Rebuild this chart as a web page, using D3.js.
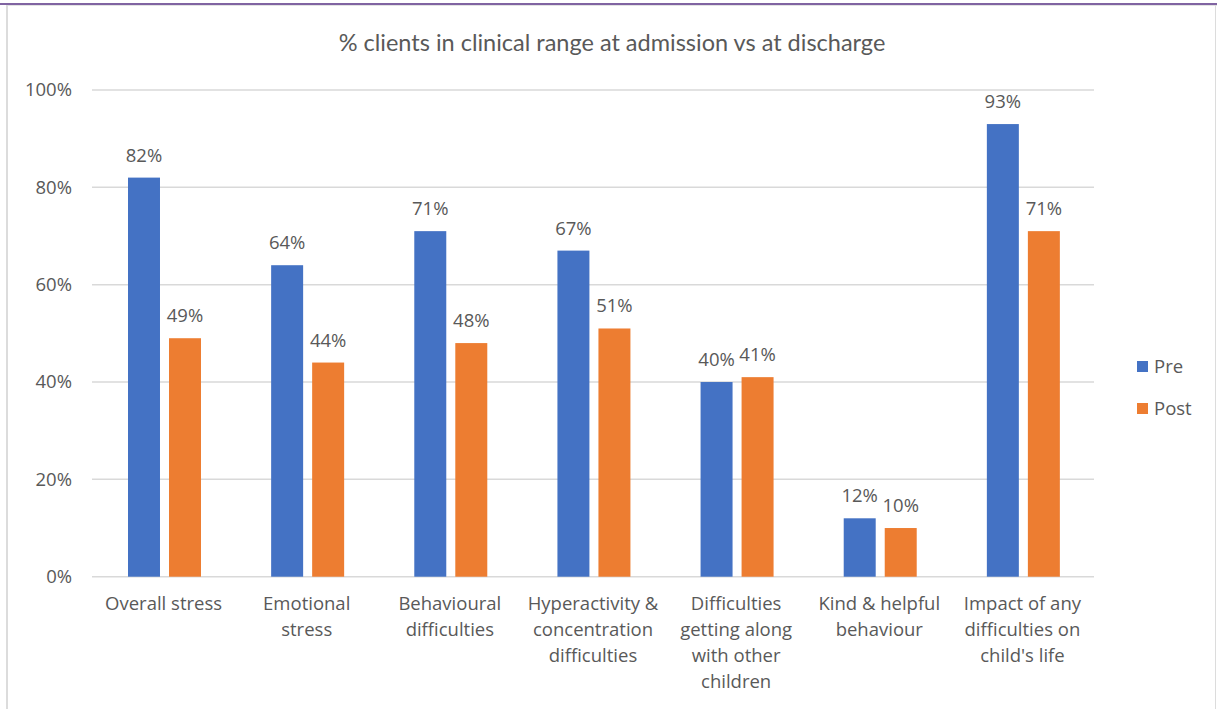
<!DOCTYPE html>
<html>
<head>
<meta charset="utf-8">
<script src="https://cdn.jsdelivr.net/npm/d3@7"></script>
<style>
  html, body { margin: 0; padding: 0; background: #fff; }
  svg { display: block; }
</style>
</head>
<body>
<svg id="chart" width="1217" height="709"></svg>
<script>
const categories = [
  ["Overall stress"],
  ["Emotional", "stress"],
  ["Behavioural", "difficulties"],
  ["Hyperactivity &", "concentration", "difficulties"],
  ["Difficulties", "getting along", "with other", "children"],
  ["Kind & helpful", "behaviour"],
  ["Impact of any", "difficulties on", "child's life"]
];
const seriesNames = ["Pre", "Post"];
const preValues = [0.82, 0.64, 0.71, 0.67, 0.40, 0.12, 0.93];
const postValues = [0.49, 0.44, 0.48, 0.51, 0.41, 0.10, 0.71];
const yTicks = [0, 0.2, 0.4, 0.6, 0.8, 1.0];
const colors = ["#4472c4", "#ed7d31"];
const title = "% clients in clinical range at admission vs at discharge";

const svg = d3.select("#chart");
const textColor = "#595959";
const font = "'Open Sans', sans-serif";
const fs = 18.5;

// frame
svg.append("rect").attr("x", 0).attr("y", 3).attr("width", 1217).attr("height", 2).attr("fill", "#8064a2");
svg.append("rect").attr("x", 6).attr("y", 5).attr("width", 1211).attr("height", 1).attr("fill", "#e3e3e3");
svg.append("rect").attr("x", 6).attr("y", 5).attr("width", 2).attr("height", 704).attr("fill", "#dcdcdc");
svg.append("rect").attr("x", 1215).attr("y", 5).attr("width", 1).attr("height", 704).attr("fill", "#dcdcdc");

const catIdx = categories.map((d, i) => i);
const x0 = d3.scaleBand().domain(catIdx).range([92, 1094]).padding(0);
const x1 = d3.scaleBand().domain(seriesNames).range([36, 109]).paddingInner(0.22);
const y = d3.scaleLinear().domain([0, 1]).range([576.7, 90]);

// gridlines
svg.append("g").selectAll("line").data(yTicks).join("line")
  .attr("x1", 92).attr("x2", 1094)
  .attr("y1", d => y(d)).attr("y2", d => y(d))
  .attr("stroke", "#d9d9d9").attr("stroke-width", 1.5);

// y axis labels
svg.append("g").selectAll("text").data(yTicks).join("text")
  .attr("x", 72).attr("y", d => y(d)).attr("dy", "0.35em")
  .attr("text-anchor", "end")
  .attr("font-family", font).attr("font-size", fs).attr("fill", textColor)
  .text(d => d3.format(".0%")(d));

// title
svg.append("text").attr("x", 612).attr("y", 51)
  .attr("text-anchor", "middle")
  .attr("font-family", "Lato, sans-serif").attr("font-size", 23.5).attr("fill", textColor)
  .text(title);

// bars
const data = [];
catIdx.forEach(i => {
  data.push({ i, s: "Pre", v: preValues[i], c: colors[0] });
  data.push({ i, s: "Post", v: postValues[i], c: colors[1] });
});

const bars = svg.append("g");
bars.selectAll("rect").data(data).join("rect")
  .attr("x", d => x0(d.i) + x1(d.s))
  .attr("width", x1.bandwidth())
  .attr("y", d => y(d.v))
  .attr("height", d => y(0) - y(d.v))
  .attr("fill", d => d.c);

bars.selectAll("text").data(data).join("text")
  .attr("x", d => x0(d.i) + x1(d.s) + x1.bandwidth() / 2)
  .attr("y", d => y(d.v) - 16)
  .attr("text-anchor", "middle")
  .attr("font-family", font).attr("font-size", fs).attr("fill", textColor)
  .text(d => d3.format(".0%")(d.v));

// category labels
const cat = svg.append("g").selectAll("text").data(catIdx).join("text")
  .attr("x", d => x0(d) + x0.bandwidth() / 2)
  .attr("text-anchor", "middle")
  .attr("font-family", font).attr("font-size", fs).attr("fill", textColor);
cat.selectAll("tspan").data(d => categories[d]).join("tspan")
  .attr("x", function() { return d3.select(this.parentNode).attr("x"); })
  .attr("y", (d, j) => 610 + j * 26)
  .text(d => d);

// legend
const leg = svg.append("g").selectAll("g").data(seriesNames).join("g")
  .attr("transform", (d, i) => `translate(1137, ${361 + i * 42})`);
leg.append("rect").attr("width", 11).attr("height", 11).attr("fill", (d, i) => colors[i]);
leg.append("text").attr("x", 17).attr("y", 5.5).attr("dy", "0.35em")
  .attr("font-family", font).attr("font-size", fs).attr("fill", textColor)
  .text(d => d);
</script>
</body>
</html>
